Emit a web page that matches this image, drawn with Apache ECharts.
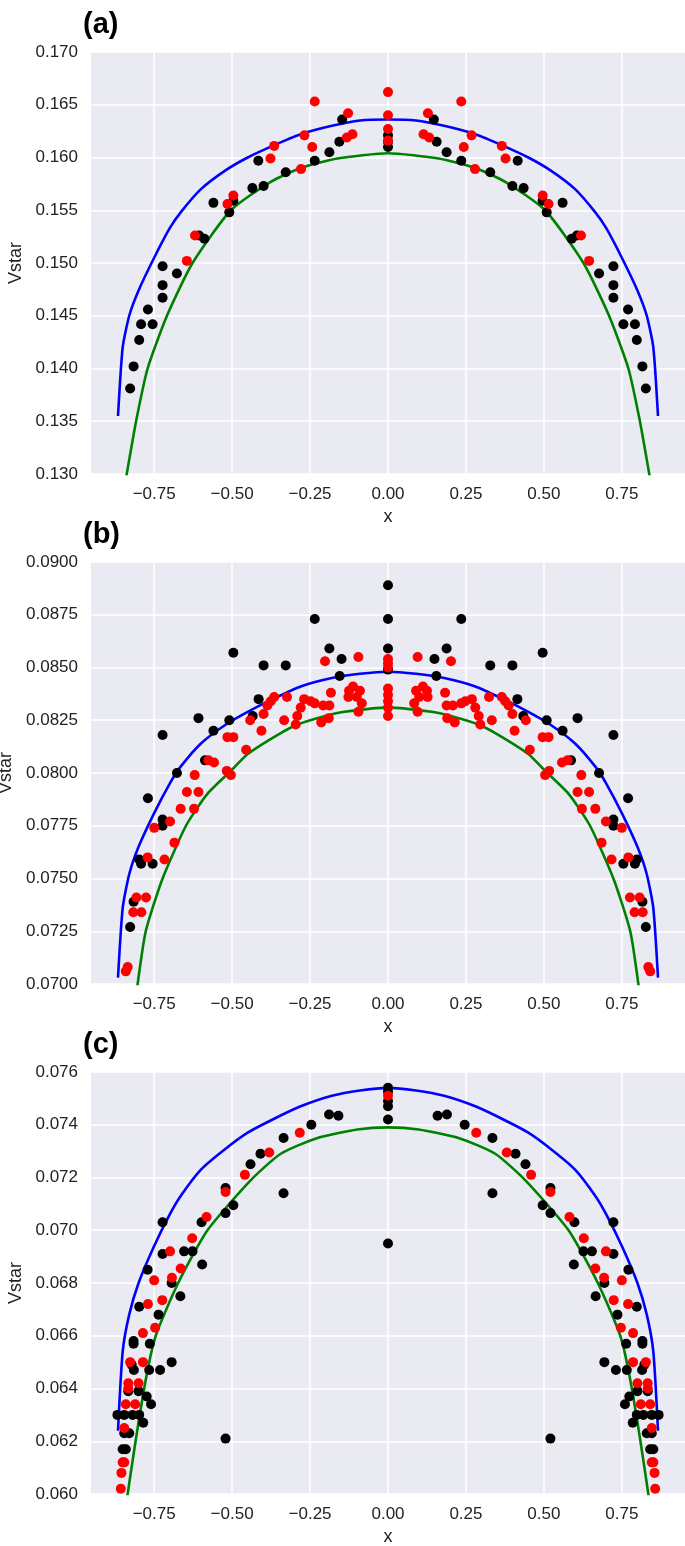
<!DOCTYPE html>
<html>
<head>
<meta charset="utf-8">
<script src="https://cdn.jsdelivr.net/npm/echarts@6/dist/echarts.min.js"></script>
<style>
html,body{margin:0;padding:0;background:#fff;}
#chart{width:685px;height:1546px;}
</style>
</head>
<body>
<div id="chart"></div>
<script>
// ---------- tick labels ----------
const xTicks = [-0.75, -0.5, -0.25, 0, 0.25, 0.5, 0.75];
const panelLabels = ['(a)', '(b)', '(c)'];
const yRanges = [[0.130, 0.170, 0.005, 3], [0.070, 0.090, 0.0025, 4], [0.060, 0.076, 0.002, 3]];

// ---------- blue curves (shared x samples) ----------
const blueX = [-0.866, -0.851, -0.83, -0.80, -0.75, -0.70, -0.665, -0.60, -0.52, -0.45, -0.37, -0.28, -0.18, -0.09, 0,
               0.09, 0.18, 0.28, 0.37, 0.45, 0.52, 0.60, 0.665, 0.70, 0.75, 0.80, 0.83, 0.851, 0.866];
const blueA = [0.1355, 0.1420, 0.1450, 0.1474, 0.1505, 0.1533, 0.1548, 0.1570, 0.1588, 0.1600, 0.1611, 0.1622, 0.1630, 0.1635, 0.1636,
               0.1635, 0.1630, 0.1622, 0.1611, 0.1600, 0.1588, 0.1570, 0.1548, 0.1533, 0.1505, 0.1474, 0.1450, 0.1420, 0.1355];
const blueB = [0.0703, 0.0736, 0.0752, 0.0765, 0.0781, 0.0795, 0.0803, 0.0814, 0.0823, 0.0829, 0.0835, 0.0841, 0.0845, 0.0847, 0.0848,
               0.0847, 0.0845, 0.0841, 0.0835, 0.0829, 0.0823, 0.0814, 0.0803, 0.0795, 0.0781, 0.0765, 0.0752, 0.0736, 0.0703];
const blueC = [0.0624, 0.0654, 0.0668, 0.0680, 0.0694, 0.0706, 0.0713, 0.0723, 0.0731, 0.0737, 0.0742, 0.0747, 0.0751, 0.0753, 0.0754,
               0.0753, 0.0751, 0.0747, 0.0742, 0.0737, 0.0731, 0.0723, 0.0713, 0.0706, 0.0694, 0.0680, 0.0668, 0.0654, 0.0624];

// ---------- green curves ----------
const greenAX = [-0.86, -0.838, -0.808, -0.771, -0.709, -0.627, -0.504, -0.376, -0.28, -0.162, 0, 0.162, 0.28, 0.376, 0.504, 0.627, 0.709, 0.771, 0.808, 0.838, 0.86];
const greenAY = [0.1263, 0.1300, 0.1350, 0.1400, 0.1450, 0.1500, 0.1550, 0.1577, 0.1590, 0.1599, 0.1604, 0.1599, 0.1590, 0.1577, 0.1550, 0.1500, 0.1450, 0.1400, 0.1350, 0.1300, 0.1263];
const greenBX = [-0.83, -0.803, -0.777, -0.723, -0.648, -0.58, -0.504, -0.45, -0.355, -0.29, -0.21, -0.14, 0, 0.14, 0.21, 0.29, 0.355, 0.45, 0.504, 0.58, 0.648, 0.723, 0.777, 0.803, 0.83];
const greenBY = [0.0667, 0.0700, 0.0725, 0.0750, 0.0775, 0.0790, 0.0801, 0.0809, 0.0818, 0.0823, 0.08267, 0.0829, 0.0831, 0.0829, 0.08267, 0.0823, 0.0818, 0.0809, 0.0801, 0.0790, 0.0775, 0.0750, 0.0725, 0.0700, 0.0667];
const greenCX = [-0.85, -0.835, -0.782, -0.745, -0.673, -0.579, -0.44, -0.344, -0.226, -0.098, 0, 0.098, 0.226, 0.344, 0.44, 0.579, 0.673, 0.745, 0.782, 0.835, 0.85];
const greenCY = [0.0585, 0.0600, 0.0640, 0.0660, 0.0680, 0.0700, 0.0719, 0.0729, 0.0735, 0.07382, 0.0739, 0.07382, 0.0735, 0.0729, 0.0719, 0.0700, 0.0680, 0.0660, 0.0640, 0.0600, 0.0585];

// ---------- scatter points ----------
const blackA = [
  [-0.827,0.1381],[-0.816,0.1402],[-0.798,0.1427],[-0.792,0.1442],[-0.755,0.1442],[-0.770,0.1456],[-0.723,0.1467],[-0.723,0.1479],[-0.723,0.1497],[-0.677,0.1490],[-0.589,0.1523],[-0.606,0.1526],[-0.560,0.1557],[-0.509,0.1548],[-0.496,0.1559],[-0.435,0.1571],[-0.399,0.1573],[-0.416,0.1597],[-0.328,0.1586],[-0.235,0.1597],[-0.188,0.1605],[-0.156,0.1615],[-0.147,0.1636],
  [0,0.1621],[0,0.1615],[0,0.1610],
  [0.827,0.1381],[0.816,0.1402],[0.798,0.1427],[0.792,0.1442],[0.755,0.1442],[0.770,0.1456],[0.723,0.1467],[0.723,0.1479],[0.723,0.1497],[0.677,0.1490],[0.589,0.1523],[0.606,0.1526],[0.560,0.1557],[0.509,0.1548],[0.496,0.1559],[0.435,0.1571],[0.399,0.1573],[0.416,0.1597],[0.328,0.1586],[0.235,0.1597],[0.188,0.1605],[0.156,0.1615],[0.147,0.1636]
];
const redA = [
  [-0.619,0.1526],[-0.645,0.1502],[-0.496,0.1564],[-0.515,0.1556],[-0.377,0.1599],[-0.365,0.1611],[-0.279,0.1589],[-0.243,0.1610],[-0.268,0.1621],[-0.235,0.1653],[-0.128,0.1642],[-0.132,0.1619],[-0.114,0.1622],
  [0,0.1662],[0,0.1640],[0,0.1627],[0,0.1616],
  [0.619,0.1526],[0.645,0.1502],[0.496,0.1564],[0.515,0.1556],[0.377,0.1599],[0.365,0.1611],[0.279,0.1589],[0.243,0.1610],[0.268,0.1621],[0.235,0.1653],[0.128,0.1642],[0.132,0.1619],[0.114,0.1622]
];
const blackB = [
  [-0.235,0.0873],[-0.496,0.0857],[-0.188,0.0859],[-0.149,0.0854],[-0.399,0.0851],[-0.328,0.0851],[-0.155,0.0846],[-0.415,0.0835],[-0.434,0.0827],[-0.608,0.0826],[-0.509,0.0825],[-0.560,0.0820],[-0.723,0.0818],[-0.587,0.0806],[-0.677,0.0800],[-0.770,0.0788],[-0.723,0.0778],[-0.723,0.0775],[-0.798,0.0759],[-0.792,0.0757],[-0.755,0.0757],[-0.816,0.0739],[-0.827,0.0727],
  [0,0.0889],[0,0.0873],[0,0.0859],[0,0.0849],
  [0.235,0.0873],[0.496,0.0857],[0.188,0.0859],[0.149,0.0854],[0.399,0.0851],[0.328,0.0851],[0.155,0.0846],[0.415,0.0835],[0.434,0.0827],[0.608,0.0826],[0.509,0.0825],[0.560,0.0820],[0.723,0.0818],[0.587,0.0806],[0.677,0.0800],[0.770,0.0788],[0.723,0.0778],[0.723,0.0775],[0.798,0.0759],[0.792,0.0757],[0.755,0.0757],[0.816,0.0739],[0.827,0.0727]
];
const redB = [
  [-0.202,0.0853],[-0.095,0.0855],[-0.112,0.0841],[-0.090,0.0839],[-0.127,0.0836],[-0.100,0.0836],[-0.084,0.0833],[-0.095,0.0829],[-0.125,0.0839],[-0.183,0.0838],[-0.188,0.0832],[-0.208,0.0832],[-0.235,0.0833],[-0.248,0.0834],[-0.190,0.0826],[-0.214,0.0824],[-0.269,0.0835],[-0.280,0.0831],[-0.291,0.0827],[-0.296,0.0823],[-0.324,0.0836],[-0.365,0.0836],[-0.376,0.0834],[-0.387,0.0832],[-0.399,0.0828],[-0.406,0.0820],[-0.333,0.0825],[-0.442,0.0825],[-0.455,0.0811],[-0.496,0.0817],[-0.515,0.0817],[-0.517,0.0801],[-0.504,0.0799],[-0.576,0.0806],[-0.558,0.0805],[-0.620,0.0799],[-0.645,0.0791],[-0.608,0.0791],[-0.665,0.0783],[-0.622,0.0783],[-0.699,0.0777],[-0.750,0.0774],[-0.685,0.0767],[-0.717,0.0759],[-0.771,0.0760],[-0.807,0.0741],[-0.776,0.0741],[-0.817,0.0734],[-0.791,0.0734],[-0.841,0.0706],[-0.835,0.0708],
  [0,0.0854],[0,0.0852],[0,0.0850],[0,0.0840],[0,0.0837],[0,0.0834],[0,0.0831],[0,0.0827],
  [0.202,0.0853],[0.095,0.0855],[0.112,0.0841],[0.090,0.0839],[0.127,0.0836],[0.100,0.0836],[0.084,0.0833],[0.095,0.0829],[0.125,0.0839],[0.183,0.0838],[0.188,0.0832],[0.208,0.0832],[0.235,0.0833],[0.248,0.0834],[0.190,0.0826],[0.214,0.0824],[0.269,0.0835],[0.280,0.0831],[0.291,0.0827],[0.296,0.0823],[0.324,0.0836],[0.365,0.0836],[0.376,0.0834],[0.387,0.0832],[0.399,0.0828],[0.406,0.0820],[0.333,0.0825],[0.442,0.0825],[0.455,0.0811],[0.496,0.0817],[0.515,0.0817],[0.517,0.0801],[0.504,0.0799],[0.576,0.0806],[0.558,0.0805],[0.620,0.0799],[0.645,0.0791],[0.608,0.0791],[0.665,0.0783],[0.622,0.0783],[0.699,0.0777],[0.750,0.0774],[0.685,0.0767],[0.717,0.0759],[0.771,0.0760],[0.807,0.0741],[0.776,0.0741],[0.817,0.0734],[0.791,0.0734],[0.841,0.0706],[0.835,0.0708]
];
const blackC = [
  [-0.159,0.07434],[-0.189,0.07439],[-0.246,0.0740],[-0.335,0.0735],[-0.335,0.0714],[-0.409,0.0729],[-0.441,0.0725],[-0.521,0.0716],[-0.496,0.07095],[-0.521,0.07065],[-0.598,0.0703],[-0.654,0.0692],[-0.627,0.0692],[-0.596,0.0687],[-0.723,0.0703],[-0.723,0.0691],[-0.771,0.0685],[-0.694,0.0680],[-0.666,0.0675],[-0.798,0.0671],[-0.736,0.0668],[-0.816,0.0658],[-0.816,0.0657],[-0.764,0.0657],[-0.815,0.0647],[-0.822,0.0649],[-0.766,0.0647],[-0.731,0.0647],[-0.694,0.0650],[-0.833,0.0639],[-0.800,0.0639],[-0.774,0.0637],[-0.760,0.0634],[-0.868,0.0630],[-0.846,0.0630],[-0.819,0.0630],[-0.798,0.0630],[-0.785,0.0627],[-0.846,0.0623],[-0.830,0.0623],[-0.851,0.0617],[-0.841,0.0617],[-0.521,0.0621],
  [0,0.0754],[0,0.07525],[0,0.0749],[0,0.0747],[0,0.0742],[0,0.0695],
  [0.159,0.07434],[0.189,0.07439],[0.246,0.0740],[0.335,0.0735],[0.335,0.0714],[0.409,0.0729],[0.441,0.0725],[0.521,0.0716],[0.496,0.07095],[0.521,0.07065],[0.598,0.0703],[0.654,0.0692],[0.627,0.0692],[0.596,0.0687],[0.723,0.0703],[0.723,0.0691],[0.771,0.0685],[0.694,0.0680],[0.666,0.0675],[0.798,0.0671],[0.736,0.0668],[0.816,0.0658],[0.816,0.0657],[0.764,0.0657],[0.815,0.0647],[0.822,0.0649],[0.766,0.0647],[0.731,0.0647],[0.694,0.0650],[0.833,0.0639],[0.800,0.0639],[0.774,0.0637],[0.760,0.0634],[0.868,0.0630],[0.846,0.0630],[0.819,0.0630],[0.798,0.0630],[0.785,0.0627],[0.846,0.0623],[0.830,0.0623],[0.851,0.0617],[0.841,0.0617],[0.521,0.0621]
];
const redC = [
  [-0.283,0.0737],[-0.381,0.07295],[-0.459,0.0721],[-0.521,0.07145],[-0.582,0.0705],[-0.628,0.0697],[-0.699,0.0692],[-0.665,0.06855],[-0.750,0.0681],[-0.693,0.0682],[-0.770,0.0672],[-0.724,0.06735],[-0.747,0.0663],[-0.786,0.0661],[-0.827,0.0650],[-0.786,0.0650],[-0.833,0.0642],[-0.833,0.0640],[-0.800,0.0642],[-0.841,0.0634],[-0.811,0.0634],[-0.846,0.0625],[-0.851,0.0612],[-0.846,0.0612],[-0.855,0.0608],[-0.857,0.0602],
  [0,0.0751],
  [0.283,0.0737],[0.381,0.07295],[0.459,0.0721],[0.521,0.07145],[0.582,0.0705],[0.628,0.0697],[0.699,0.0692],[0.665,0.06855],[0.750,0.0681],[0.693,0.0682],[0.770,0.0672],[0.724,0.06735],[0.747,0.0663],[0.786,0.0661],[0.827,0.0650],[0.786,0.0650],[0.833,0.0642],[0.833,0.0640],[0.800,0.0642],[0.841,0.0634],[0.811,0.0634],[0.846,0.0625],[0.851,0.0612],[0.846,0.0612],[0.855,0.0608],[0.857,0.0602]
];

// ---------- build option ----------
const FONT = "'Liberation Sans', Arial, Helvetica, sans-serif";
const pair = (xs, ys) => xs.map((x, i) => [x, ys[i]]);
const tops = [52, 562, 1072];
const PH = 422;

const grids = tops.map(t => ({
  left: 91, right: 0, top: t, height: PH, backgroundColor: '#EAEAF2', show: true, borderWidth: 0,
  containLabel: false, outerBoundsMode: 'none'
}));

const xAxes = tops.map((t, i) => ({
  type: 'value', gridIndex: i, min: -0.9526, max: 0.9526,
  axisLine: { show: false },
  axisTick: { show: false, customValues: xTicks },
  axisLabel: {
    customValues: xTicks, margin: 12, color: '#222', fontSize: 17, fontFamily: FONT,
    formatter: v => (v < 0 ? '\u2212' : '') + Math.abs(v).toFixed(2)
  },
  splitLine: { show: true, lineStyle: { color: '#ffffff', width: 1.6 } },
  name: 'x', nameLocation: 'middle', nameGap: 34,
  nameTextStyle: { color: '#222', fontSize: 18, fontFamily: FONT }
}));

const yAxes = yRanges.map((r, i) => ({
  type: 'value', gridIndex: i, min: r[0], max: r[1], interval: r[2],
  axisLine: { show: false }, axisTick: { show: false },
  axisLabel: { margin: 13, color: '#222', fontSize: 17, fontFamily: FONT, formatter: v => v.toFixed(r[3]) },
  splitLine: { show: true, lineStyle: { color: '#ffffff', width: 1.6 } },
  name: 'Vstar', nameLocation: 'middle', nameGap: 63, nameRotate: 90,
  nameTextStyle: { color: '#222', fontSize: 18, fontFamily: FONT }
}));

const lineSeries = (data, color, i) => ({
  type: 'line', xAxisIndex: i, yAxisIndex: i, data, showSymbol: false, symbol: 'none',
  smooth: 0.2, clip: true, z: 2, silent: true,
  lineStyle: { color, width: 2.6 }
});
const dotSeries = (data, color, i, z) => ({
  type: 'scatter', xAxisIndex: i, yAxisIndex: i, data, symbolSize: 10, z, silent: true,
  itemStyle: { color, opacity: 1 }
});

const series = [
  lineSeries(pair(blueX, blueA), '#0000ff', 0), lineSeries(pair(greenAX, greenAY), '#008000', 0),
  dotSeries(blackA, '#000000', 0, 3), dotSeries(redA, '#ff0000', 0, 4),
  lineSeries(pair(blueX, blueB), '#0000ff', 1), lineSeries(pair(greenBX, greenBY), '#008000', 1),
  dotSeries(blackB, '#000000', 1, 3), dotSeries(redB, '#ff0000', 1, 4),
  lineSeries(pair(blueX, blueC), '#0000ff', 2), lineSeries(pair(greenCX, greenCY), '#008000', 2),
  dotSeries(blackC, '#000000', 2, 3), dotSeries(redC, '#ff0000', 2, 4)
];

const graphic = panelLabels.map((t, i) => ({
  type: 'text', left: 83, top: tops[i] - 42,
  style: { text: t, font: "bold 29px " + FONT, fill: '#000' }
}));

const chart = echarts.init(document.getElementById('chart'), null, { renderer: 'canvas' });
chart.setOption({
  animation: false,
  backgroundColor: '#ffffff',
  grid: grids, xAxis: xAxes, yAxis: yAxes, series, graphic
});
</script>
</body>
</html>
